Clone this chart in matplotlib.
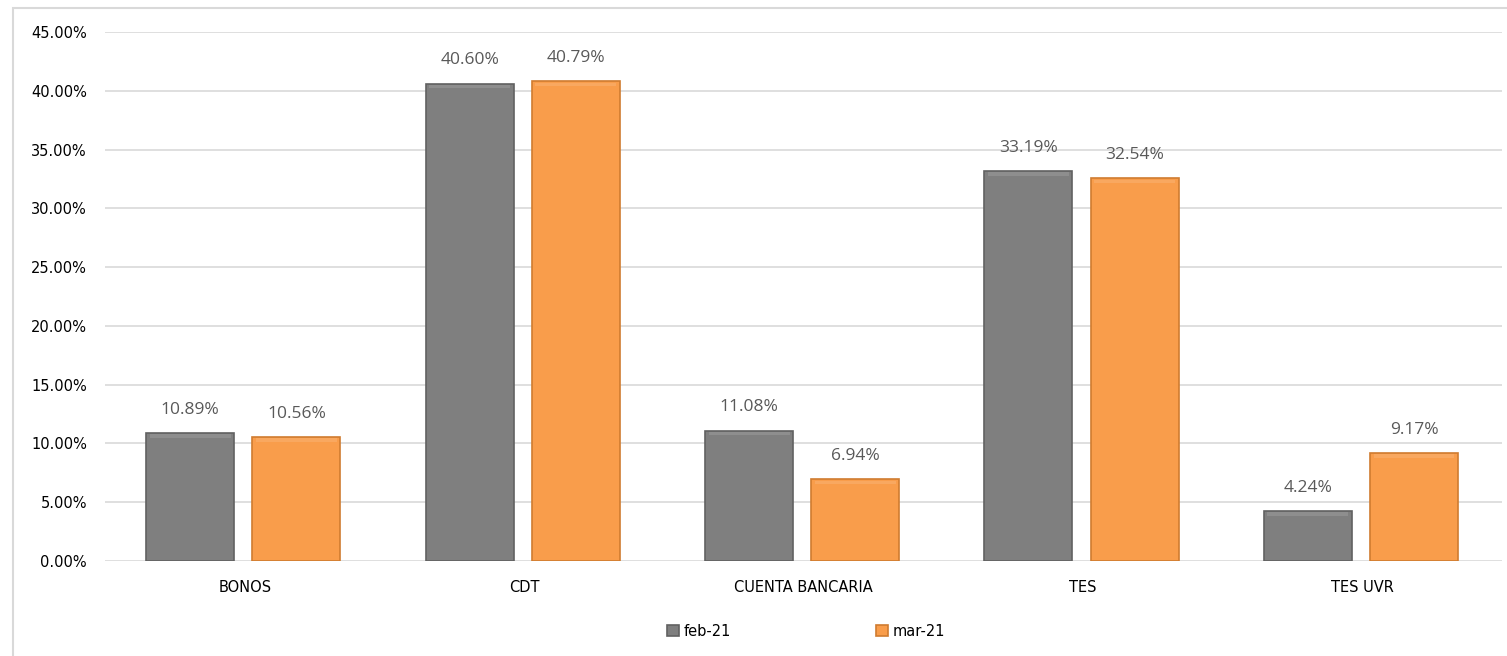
import numpy as np
import matplotlib
matplotlib.use('Agg')
import matplotlib.pyplot as plt
from matplotlib.patches import Rectangle
from matplotlib.ticker import FuncFormatter

# data
categories = ['BONOS', 'CDT', 'CUENTA BANCARIA', 'TES', 'TES UVR']
series_names = ['feb-21', 'mar-21']
feb_vals = [10.89, 40.60, 11.08, 33.19, 4.24]
mar_vals = [10.56, 40.79, 6.94, 32.54, 9.17]
y_ticks = [0, 5, 10, 15, 20, 25, 30, 35, 40, 45]

colors = ['#7F7F7F', '#F99D4B']
edge_colors = ['#616161', '#CF7C30']
grid_color = '#D9D9D9'

plt.rcParams['font.family'] = 'DejaVu Sans'

W, H = 1507, 656
fig = plt.figure(figsize=(W / 100, H / 100), dpi=100)

# outer chart border (only left/top visible in the crop)
fig.patches.append(Rectangle((13 / W, -0.1), 1.2, 1 - 8 / H + 0.1, transform=fig.transFigure,
                             fill=False, edgecolor=grid_color, linewidth=1.5))

ax = fig.add_axes([105 / W, 1 - 561 / H, (1502 - 105) / W, (561 - 32) / H])

x = np.arange(len(categories))
width = 0.315
offsets = [-0.195, 0.185]

for vals, off, c, ec, name in zip([feb_vals, mar_vals], offsets, colors, edge_colors, series_names):
    ax.bar(x + off, vals, width, color=c, edgecolor=ec, linewidth=1.2, label=name, zorder=3)
    # soft bevel highlight along the top of each bar
    ax.bar(x + off, [0.3] * len(vals), width * 0.92, bottom=np.array(vals) - 0.4,
           color='white', alpha=0.12, linewidth=0, zorder=4)
    for xi, v in zip(x + off, vals):
        ax.annotate(f'{v:.2f}%', (xi, v), xytext=(0, 11), textcoords='offset points',
                    ha='center', va='bottom', fontsize=12.5, color='#595959',
                    family='Open Sans')

ax.set_xlim(-0.5, len(categories) - 0.5)
ax.set_ylim(0, 45)
ax.set_yticks(y_ticks)
ax.yaxis.set_major_formatter(FuncFormatter(lambda v, p: f'{v:.2f}%'))
ax.set_xticks(x)
ax.set_xticklabels(categories)
ax.tick_params(axis='both', length=0, labelsize=10.5, colors='black')
ax.tick_params(axis='y', pad=13)
ax.tick_params(axis='x', pad=14)
ax.grid(axis='y', color=grid_color, linewidth=1.2, zorder=0)
ax.set_axisbelow(True)
for s in ax.spines.values():
    s.set_visible(False)

fig.legend(loc='center', bbox_to_anchor=(806 / W, 1 - 631 / H), ncol=2, frameon=False,
           handlelength=0.8, handleheight=0.8, handletextpad=0.3, columnspacing=10,
           prop={'size': 10.5, 'family': 'DejaVu Sans'})

fig.savefig('out.png', dpi=100)
